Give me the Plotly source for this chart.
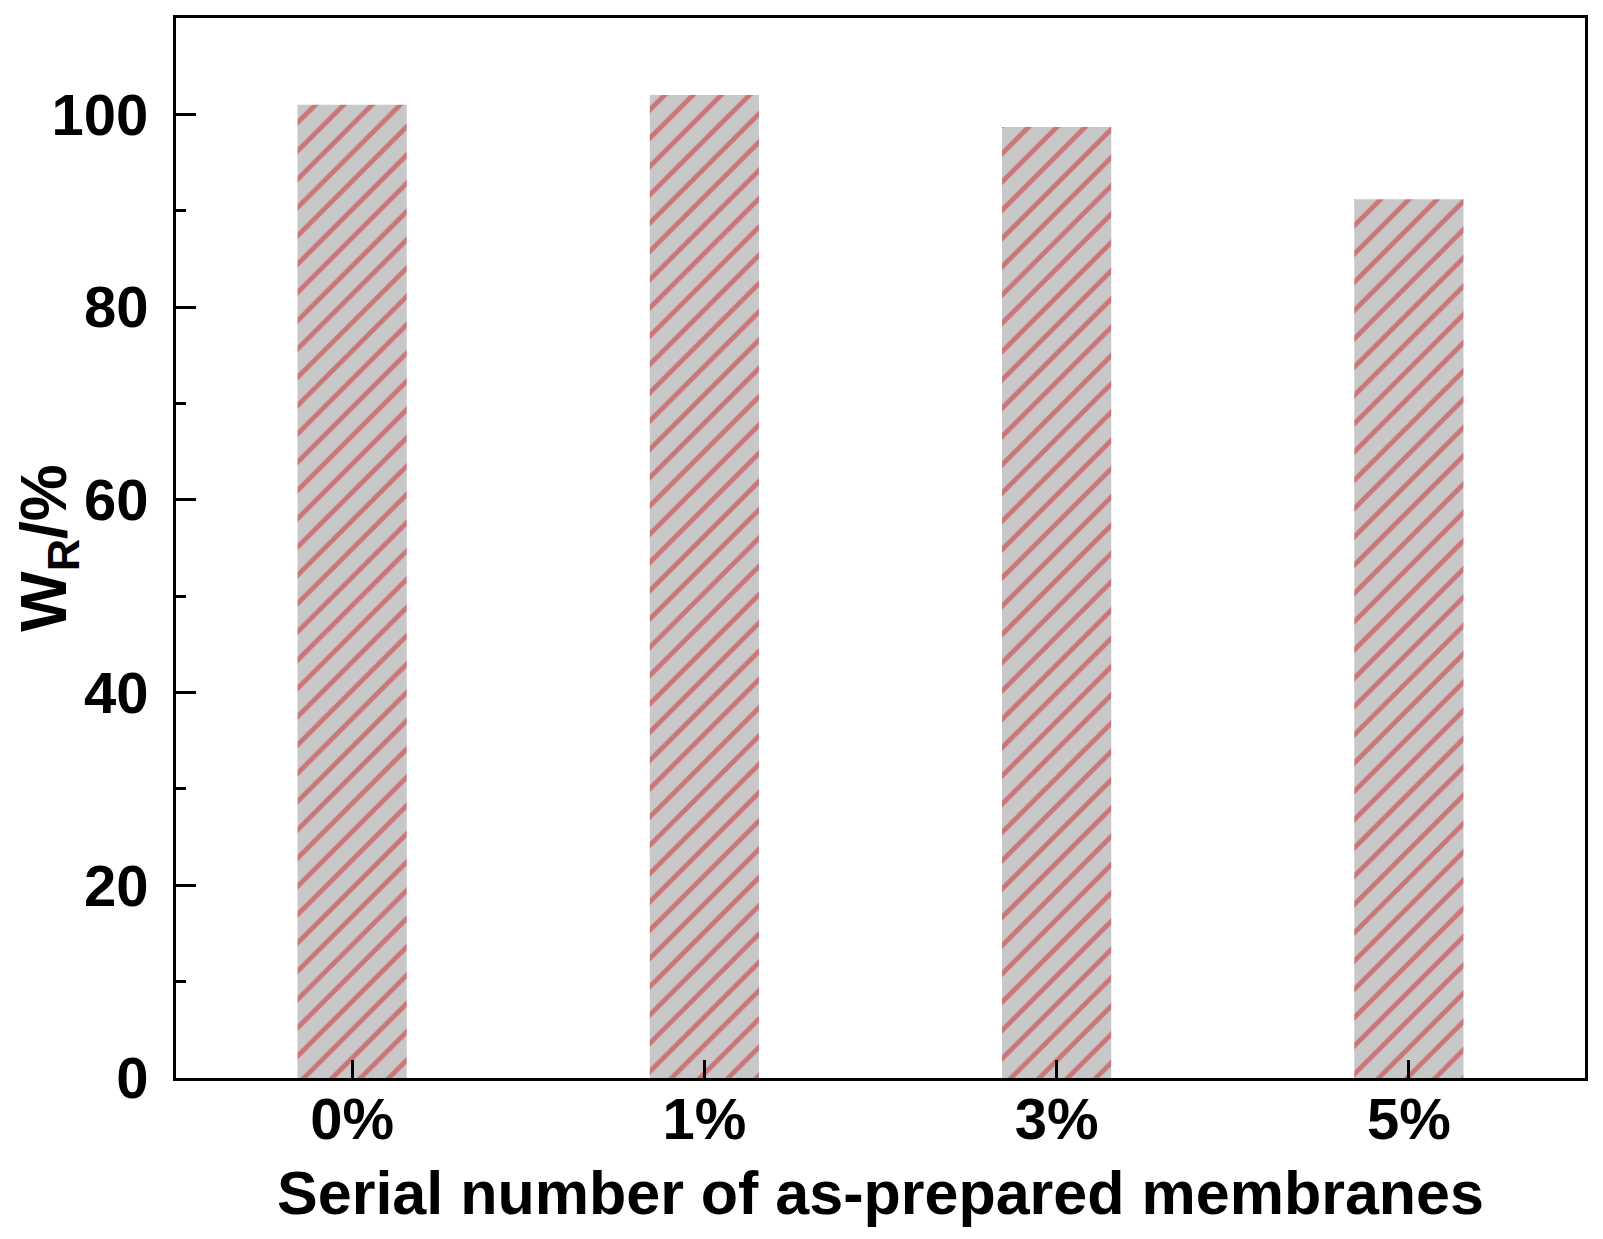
import plotly.graph_objects as go

categories = ["0%", "1%", "3%", "5%"]
wr_values = [101.0, 102.0, 98.7, 91.2]

fig = go.Figure()
fig.add_trace(
    go.Bar(
        x=categories,
        y=wr_values,
        width=0.31,
        marker=dict(
            color="#c8c8c8",
            line=dict(width=0),
            pattern=dict(shape="/", fgcolor="#cf2228", fillmode="overlay", size=20, solidity=0.24),
        ),
    )
)
# empty trace that only carries a second y axis for the title
fig.add_trace(go.Scatter(x=categories[:1], y=[None], yaxis="y2", showlegend=False, hoverinfo="skip"))

font_family = "Liberation Sans, Arial, sans-serif"

# page body has an 8px margin, so the figure is a bit smaller than the window
fig.update_layout(
    width=1595,
    height=1231,
    margin=dict(l=168, r=18, t=10, b=161, autoexpand=False),
    plot_bgcolor="white",
    paper_bgcolor="white",
    showlegend=False,
    font=dict(family=font_family, color="black"),
)

fig.update_xaxes(
    range=[-0.5, 3.5],
    showline=True, linecolor="black", linewidth=3, mirror=True,
    ticks="inside", ticklen=18, tickwidth=3, tickcolor="black",
    ticklabelstandoff=-12,
    tickfont=dict(size=58, family=font_family, weight="bold"),
    title=dict(text="Serial number of as-prepared membranes", font=dict(size=61, weight="bold"), standoff=22),
    showgrid=False, automargin=False,
)

fig.update_layout(
    yaxis=dict(
        range=[0, 110],
        tickvals=[0, 20, 40, 60, 80, 100],
        showline=True, linecolor="black", linewidth=3, mirror=True,
        ticks="inside", ticklen=20, tickwidth=3, tickcolor="black",
        minor=dict(tickvals=[10, 30, 50, 70, 90], ticks="inside", ticklen=10, tickwidth=3, tickcolor="black"),
        ticklabelstandoff=13,
        tickfont=dict(size=58, family=font_family, weight="bold"),
        showgrid=False, zeroline=False, automargin=False,
    ),
    yaxis2=dict(
        overlaying="y", side="left", anchor="free", position=0,
        range=[0, 110], showticklabels=False, ticks="", showline=False,
        showgrid=False, zeroline=False, automargin=False,
        title=dict(text="W<sub>R</sub>/%", font=dict(size=64, family=font_family, weight="bold"), standoff=106),
    ),
)

fig.write_html("out.html")
